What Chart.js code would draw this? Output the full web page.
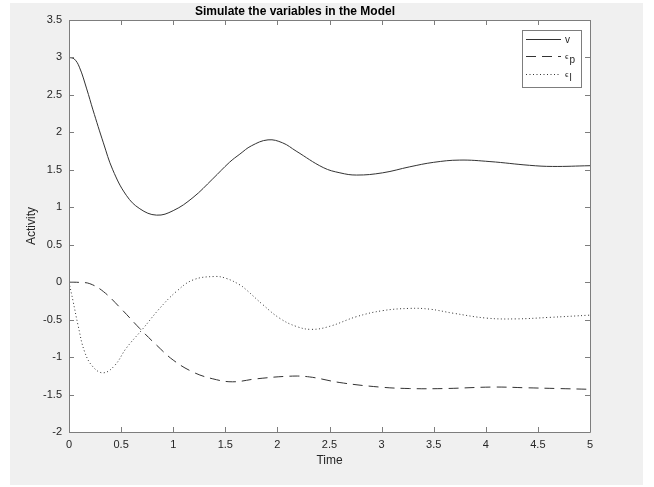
<!DOCTYPE html>
<html>
<head>
<meta charset="utf-8">
<script src="https://cdn.jsdelivr.net/npm/chart.js@4/dist/chart.umd.min.js"></script>
<style>
  html, body { margin:0; padding:0; background:#fff; }
  #fig { position:absolute; left:10px; top:3px; width:633px; height:482px; background:#f0f0f0; }
  #wrap { position:absolute; left:0; top:0; width:654px; height:487px; }
</style>
</head>
<body>
<div id="fig"></div>
<div id="wrap"><canvas id="chart" width="654" height="487"></canvas></div>
<script>
  // values
  const vTime = [0, 0.05, 0.1, 0.17, 0.23, 0.33, 0.42, 0.55, 0.68, 0.84, 1.0, 1.19, 1.38, 1.54, 1.64, 1.75, 1.91, 2.05, 2.18, 2.44, 2.6, 2.76, 3.01, 3.27, 3.5, 3.75, 4.04, 4.42, 4.64, 5.0]
  const vValues = [3.0, 2.98, 2.87, 2.58, 2.30, 1.86, 1.50, 1.16, 0.98, 0.895, 0.955, 1.13, 1.38, 1.60, 1.71, 1.82, 1.90, 1.86, 1.75, 1.53, 1.46, 1.43, 1.46, 1.54, 1.60, 1.63, 1.61, 1.56, 1.545, 1.555]

  const epTime = [0, 0.1, 0.2, 0.33, 0.49, 0.68, 0.84, 1.0, 1.19, 1.38, 1.57, 1.8, 2.12, 2.31, 2.6, 2.98, 3.27, 3.6, 4.07, 4.4, 4.7, 5.0]
  const epValues = [0, -0.003, -0.02, -0.125, -0.34, -0.62, -0.84, -1.04, -1.20, -1.29, -1.33, -1.29, -1.255, -1.265, -1.34, -1.40, -1.42, -1.42, -1.40, -1.41, -1.42, -1.43]

  const elTime = [0, 0.04, 0.086, 0.15, 0.23, 0.33, 0.44, 0.55, 0.71, 0.87, 1.03, 1.19, 1.40, 1.51, 1.64, 1.70, 1.86, 2.02, 2.18, 2.33, 2.50, 2.76, 3.01, 3.27, 3.46, 3.69, 4.01, 4.29, 4.61, 5.0]
  const elValues = [0, -0.26, -0.57, -0.93, -1.13, -1.21, -1.11, -0.88, -0.62, -0.35, -0.125, 0.03, 0.076, 0.05, -0.036, -0.10, -0.30, -0.48, -0.59, -0.63, -0.59, -0.46, -0.38, -0.35, -0.36, -0.415, -0.48, -0.49, -0.47, -0.44]

  const seriesLabels = ["v", "ϵ_p", "ϵ_l"]
  const chartTitle = "Simulate the variables in the Model"
  const xTitle = "Time"
  const yTitle = "Activity"

  const FONT = "'Liberation Sans', Arial, Helvetica, sans-serif"
  const lineColor = "#333"
  const axisColor = "#7d7d7d"
  const textColor = "#262626"

  function toPoints(xs, ys){
    return xs.map((x, i) => ({x: x, y: ys[i]}))
  }

  // white plot area + matlab style box with inward ticks
  const axesBox = {
    id: "axesBox",
    beforeDraw(chart){
      const {ctx, chartArea: a} = chart
      ctx.save()
      ctx.fillStyle = "#fff"
      ctx.fillRect(a.left, a.top, a.right - a.left, a.bottom - a.top)
      ctx.restore()
    },
    afterDatasetsDraw(chart){
      const {ctx, chartArea: a, scales} = chart
      ctx.save()
      ctx.strokeStyle = axisColor
      ctx.lineWidth = 1
      ctx.setLineDash([])
      ctx.beginPath()
      ctx.rect(Math.round(a.left) + 0.5, Math.round(a.top) + 0.5, Math.round(a.right - a.left), Math.round(a.bottom - a.top))
      const len = 5
      scales.x.ticks.forEach(t => {
        const px = Math.round(scales.x.getPixelForValue(t.value)) + 0.5
        ctx.moveTo(px, a.bottom); ctx.lineTo(px, a.bottom - len)
        ctx.moveTo(px, a.top); ctx.lineTo(px, a.top + len)
      })
      scales.y.ticks.forEach(t => {
        const py = Math.round(scales.y.getPixelForValue(t.value)) + 0.5
        ctx.moveTo(a.left, py); ctx.lineTo(a.left + len, py)
        ctx.moveTo(a.right, py); ctx.lineTo(a.right - len, py)
      })
      ctx.stroke()
      ctx.restore()
    }
  }

  // legend box in the upper right corner of the plot
  const boxLegend = {
    id: "boxLegend",
    afterDraw(chart){
      const {ctx, chartArea: a} = chart
      const w = 59, h = 57
      const left = a.right - 9 - w, top = a.top + 10
      ctx.save()
      ctx.fillStyle = "#fff"
      ctx.fillRect(left, top, w, h)
      ctx.strokeStyle = axisColor
      ctx.lineWidth = 1
      ctx.strokeRect(Math.round(left) + 0.5, Math.round(top) + 0.5, w, h)
      const rows = [9, 26, 44]
      chart.data.datasets.forEach((ds, i) => {
        const y = Math.round(top + rows[i]) + 0.5
        ctx.strokeStyle = ds.borderColor
        ctx.lineWidth = ds.borderWidth
        ctx.setLineDash(ds.borderDash || [])
        ctx.beginPath()
        ctx.moveTo(left + 4, y)
        ctx.lineTo(left + 39, y)
        ctx.stroke()
        ctx.setLineDash([])
        ctx.fillStyle = textColor
        ctx.textAlign = "left"
        ctx.textBaseline = "alphabetic"
        const parts = ds.label.split("_")
        if(parts.length === 1){
          ctx.font = "10px " + FONT
          ctx.fillText(parts[0], left + 43, y + 3)
        } else {
          ctx.font = "8px " + FONT
          ctx.fillText(parts[0], left + 43, y + 2)
          const bw = ctx.measureText(parts[0]).width
          ctx.font = "10px " + FONT
          ctx.fillText(parts[1], left + 43 + bw + 1, y + 6.5)
        }
      })
      ctx.restore()
    }
  }

  const dashStyles = [[], [10, 6], [1, 2.5]]
  const datasets = [toPoints(vTime, vValues), toPoints(epTime, epValues), toPoints(elTime, elValues)].map((pts, i) => ({
    label: seriesLabels[i],
    data: pts,
    borderColor: lineColor,
    borderWidth: 1,
    borderDash: dashStyles[i],
    pointRadius: 0,
    fill: false,
    tension: 0.4
  }))

  const fmt = v => String(+Number(v).toFixed(1))

  const config = {
    type: "line",
    data: { datasets: datasets },
    options: {
      responsive: false,
      animation: false,
      layout: { padding: { left: 0, right: 64, top: 0, bottom: 0 } },
      plugins: {
        legend: { display: false },
        tooltip: { enabled: false },
        title: {
          display: true,
          text: chartTitle,
          color: "#000",
          font: { family: FONT, size: 12, weight: "bold" },
          padding: { top: 4, bottom: 1.6 }
        }
      },
      scales: {
        x: {
          type: "linear",
          min: 0, max: 5,
          grid: { display: false, drawTicks: false },
          border: { display: false },
          ticks: { stepSize: 0.5, padding: 6, color: textColor, font: { family: FONT, size: 11 }, callback: fmt, maxRotation: 0 },
          title: { display: true, text: xTitle, color: textColor, font: { family: FONT, size: 12 }, padding: { top: 18.8, bottom: 18.8 } },
          afterFit(scale){ scale.height = 55 }
        },
        y: {
          type: "linear",
          min: -2, max: 3.5,
          grid: { display: false, drawTicks: false },
          border: { display: false },
          ticks: { stepSize: 0.5, padding: 7, color: textColor, font: { family: FONT, size: 11 }, callback: fmt },
          title: { display: true, text: yTitle, color: textColor, font: { family: FONT, size: 12 }, padding: { top: 24.5, bottom: 24.5 } },
          afterFit(scale){ scale.width = 69 }
        }
      }
    },
    plugins: [axesBox, boxLegend]
  }

  const myChart = new Chart(document.getElementById("chart"), config)
</script>
</body>
</html>
